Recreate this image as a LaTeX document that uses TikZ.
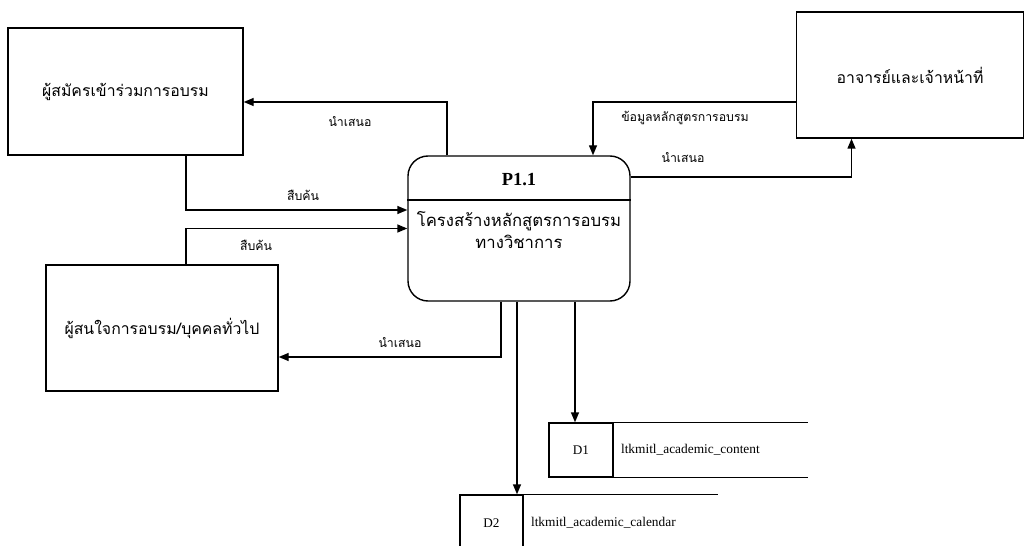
\documentclass[tikz,border=0pt]{standalone}
\usepackage{fontspec}
\setmainfont{Liberation Serif}
\newfontfamily\thaifont[Script=Thai]{Loma}
\usetikzlibrary{arrows.meta, positioning}

\begin{document}
\begin{tikzpicture}[
        font=\thaifont\fontsize{9}{11}\selectfont,
        ent/.style={draw, line width=0.8pt, minimum width=4.7cm, minimum height=2.54cm, align=center},
        proc/.style={draw, line width=0.8pt, rounded corners=0.4cm, minimum width=4.44cm, minimum height=2.9cm},
        cell/.style={draw, line width=0.8pt, minimum width=1.28cm, minimum height=1.08cm, font=\rmfamily\fontsize{7.5}{9}\selectfont},
        dname/.style={minimum width=3.88cm, minimum height=1.08cm, inner xsep=3pt, text width=3.6cm, align=left, font=\rmfamily\fontsize{7.6}{9}\selectfont},
        lbl/.style={font=\thaifont\fontsize{7}{8}\selectfont},
        flow/.style={draw, line width=0.8pt, -{Triangle[length=2mm, width=1.6mm]}}
      ]
        \clip (0,0) rectangle (20.5,-10.92);

        % external entities
        \node[ent] (trainee) at (2.51,-1.83) {ผู้สมัครเข้าร่วมการอบรม};
        \node[ent, minimum width=4.64cm, minimum height=2.52cm] (public) at (3.24,-6.56) {ผู้สนใจการอบรม/บุคคลทั่วไป};
        \node[ent, minimum width=4.54cm, minimum height=2.52cm] (staff) at (18.2,-1.5) {อาจารย์และเจ้าหน้าที่};

        % process
        \node[proc] (p11) at (10.38,-4.57) {};
        \node[font=\rmfamily\bfseries\fontsize{10.5}{12}\selectfont] (p11id) at (10.38,-3.6) {P1.1};
        \coordinate (div) at (10.38,-4.0);
        \draw[line width=0.8pt] (p11.west |- div) -- (p11.east |- div);
        \node[align=center, font=\thaifont\fontsize{9.5}{12}\selectfont] (p11name) at (10.38,-4.6) {โครงสร้างหลักสูตรการอบรม\\ทางวิชาการ};

        % data stores
        \node[cell] (d1id) at (11.62,-9.0) {D1};
        \node[dname, anchor=west] (d1name) at (d1id.east) {ltkmitl\_academic\_content};
        \draw[line width=0.8pt] (d1name.north west) -- (d1name.north east) (d1name.south west) -- (d1name.south east);

        \node[cell, minimum width=1.26cm, minimum height=1.12cm] (d2id) at (9.83,-10.46) {D2};
        \node[dname, anchor=west, minimum height=1.12cm] (d2name) at (d2id.east) {ltkmitl\_academic\_calendar};
        \draw[line width=0.8pt] (d2name.north west) -- (d2name.north east);

        % ---- flows ----
        \draw[flow] ([xshift=-1.44cm]p11.north) |- ([yshift=-0.21cm]trainee.east);
        \node[lbl] (l1) at (7.0,-2.44) {นำเสนอ};

        \draw[flow] ([xshift=1.21cm]trainee.south) |- ([yshift=0.37cm]p11.west);
        \node[lbl] (l2) at (6.06,-3.9) {สืบค้น};

        \draw[flow] ([xshift=0.48cm]public.north) |- (p11.west);
        \node[lbl] (l3) at (5.12,-4.9) {สืบค้น};

        \draw[flow] ([xshift=-0.36cm]p11.south) |- ([yshift=-0.58cm]public.east);
        \node[lbl] (l4) at (8.0,-6.86) {นำเสนอ};

        \draw[flow] ([yshift=-0.54cm]staff.west) -| ([xshift=1.48cm]p11.north);
        \node[lbl] (l5) at (13.7,-2.36) {ข้อมูลหลักสูตรการอบรม};

        \draw[flow] ([yshift=1.03cm]p11.east) -| ([xshift=-1.17cm]staff.south);
        \node[lbl] (l6) at (13.66,-3.16) {นำเสนอ};

        \draw[flow] ([xshift=1.12cm]p11.south) -- ([xshift=1.12cm]p11.south |- d1id.north);
        \draw[flow] ([xshift=-0.04cm]p11.south) -- ([xshift=-0.04cm]p11.south |- d2id.north);
    \end{tikzpicture}
\end{document}
